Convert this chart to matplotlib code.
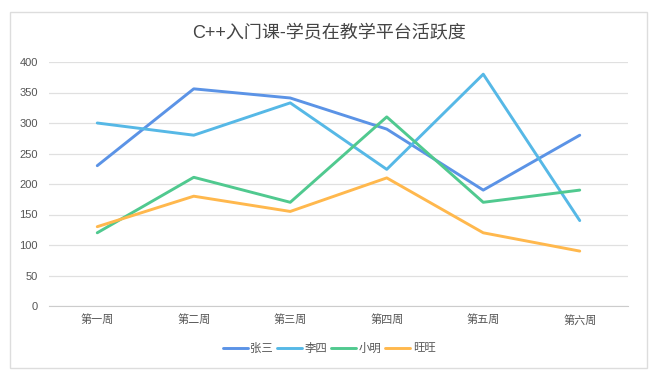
import matplotlib.pyplot as plt
from matplotlib.patches import Rectangle

plt.rcParams['font.family'] = ['Liberation Sans', 'Noto Sans CJK SC', 'DejaVu Sans']

weeks = ['第一周', '第二周', '第三周', '第四周', '第五周', '第六周']
names = ['张三', '李四', '小明', '旺旺']
zhangsan = [230, 356, 341, 290, 190, 280]
lisi = [300, 280, 333, 224, 380, 140]
xiaoming = [120, 211, 170, 310, 170, 190]
wangwang = [130, 180, 155, 210, 120, 90]
colors = ['#5B93E6', '#56B8E6', '#50C98F', '#FFB84D']

fig = plt.figure(figsize=(6.58, 3.8), dpi=100)
# outer frame
fig.patches.append(Rectangle((10 / 658, 12 / 380), 637 / 658, 356 / 380,
                             transform=fig.transFigure, fill=False,
                             edgecolor='#dddddd', linewidth=1))

ax = fig.add_axes([49 / 658, 1 - 306 / 380, 579 / 658, 244 / 380])
x = list(range(len(weeks)))
for series, name, c in zip([zhangsan, lisi, xiaoming, wangwang], names, colors):
    ax.plot(x, series, color=c, linewidth=2.1, label=name, solid_capstyle='round')

ax.set_xlim(-0.5, len(weeks) - 0.5)
ax.set_ylim(0, 400)
ax.set_yticks(range(0, 401, 50))
ax.set_xticks(x)
ax.set_xticklabels(weeks)
ax.tick_params(axis='both', length=0, labelsize=8, colors='#555555')
ax.tick_params(axis='y', pad=8)
ax.tick_params(axis='x', pad=6)
ax.grid(axis='y', color='#e0e0e0', linewidth=0.9)
ax.set_axisbelow(True)
for s in ['top', 'right', 'left']:
    ax.spines[s].set_visible(False)
ax.spines['bottom'].set_color('#cccccc')

fig.text(329 / 658, 1 - 33 / 380, 'C++入门课-学员在教学平台活跃度', ha='center', va='center',
         fontsize=13, color='#444444')

fig.legend(loc='center', bbox_to_anchor=(329 / 658, 1 - 348 / 380), ncol=4, frameon=False,
           fontsize=8.2, handlelength=2.2, handletextpad=0.25, columnspacing=0.3,
           labelcolor='#555555')

fig.savefig('out.png', dpi=100)
